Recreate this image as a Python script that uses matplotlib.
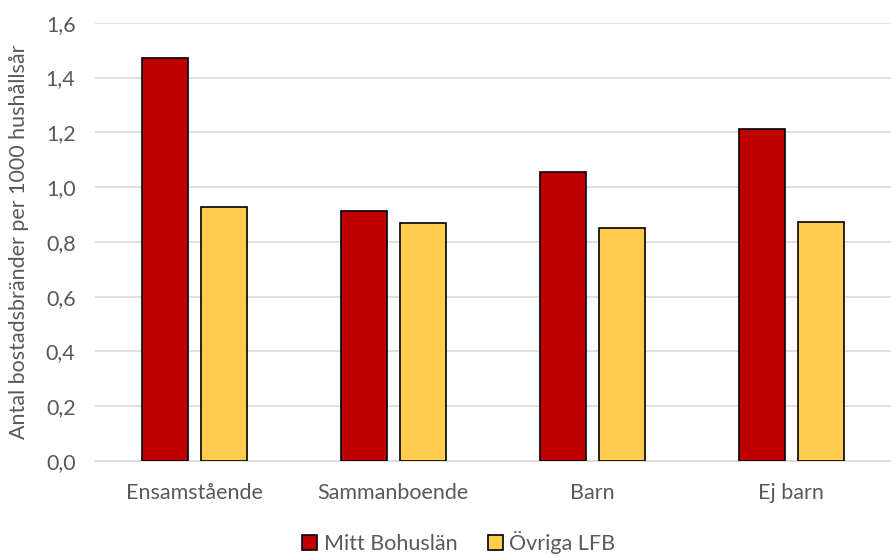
import numpy as np
import matplotlib
matplotlib.use('Agg')
import matplotlib.pyplot as plt

plt.rcParams['font.family'] = ['Lato', 'DejaVu Sans']

categories = ['Ensamstående', 'Sammanboende', 'Barn', 'Ej barn']
mitt_bohuslan = [1.47, 0.913, 1.056, 1.212]
ovriga_lfb = [0.927, 0.868, 0.850, 0.872]
yticks = [0.0, 0.2, 0.4, 0.6, 0.8, 1.0, 1.2, 1.4, 1.6]

grey = '#595959'
fs = 15.5

fig = plt.figure(figsize=(8.91, 5.56), dpi=100)
ax = fig.add_axes([0.1066, 0.171, 0.893, 0.788])

x = np.arange(len(categories))
w = 0.232
ax.bar(x - 0.148, mitt_bohuslan, w, color='#C00000', edgecolor='black',
       linewidth=1.2, label='Mitt Bohuslän', zorder=3)
ax.bar(x + 0.148, ovriga_lfb, w, color='#FFCC4D', edgecolor='black',
       linewidth=1.2, label='Övriga LFB', zorder=3)

ax.set_xlim(-0.5, len(categories) - 0.5)
ax.set_ylim(0, 1.6)
ax.set_yticks(yticks)
ax.set_yticklabels([f'{v:.1f}'.replace('.', ',') for v in yticks])
ax.set_xticks(x)
ax.set_xticklabels(categories)
ax.tick_params(axis='both', length=0, labelsize=fs, colors=grey)
ax.tick_params(axis='x', pad=16)
ax.tick_params(axis='y', pad=14)

ax.grid(axis='y', color='#D9D9D9', linewidth=1.2, zorder=0)
for s in ['top', 'right', 'left']:
    ax.spines[s].set_visible(False)
ax.spines['bottom'].set_color('#D9D9D9')
ax.spines['bottom'].set_linewidth(1.2)

ax.set_ylabel('Antal bostadsbränder per 1000 hushållsår', fontsize=fs,
              color=grey, labelpad=12)

fig.legend(*ax.get_legend_handles_labels(), loc='center',
           bbox_to_anchor=(0.515, 0.025), ncol=2,
           frameon=False, fontsize=fs, labelcolor=grey,
           handlelength=0.7, handleheight=0.7, handletextpad=0.3,
           columnspacing=1.4)

fig.savefig('out.png', dpi=100)
